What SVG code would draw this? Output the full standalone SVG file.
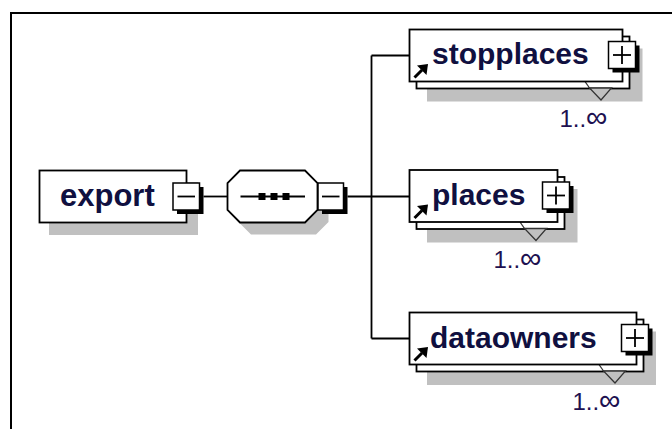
<svg xmlns="http://www.w3.org/2000/svg" width="672" height="429" viewBox="0 0 672 429">
<style>
.shadow{fill:#c0c0c0;stroke:none}
.box{fill:#fff;stroke:#000;stroke-width:1.8}
.ln{fill:none;stroke:#000;stroke-width:1.8}
.pmfill{fill:#000;stroke:none}
.pm{fill:#fff;stroke:#000;stroke-width:1.5}
.sign{stroke:#000;stroke-width:1.8;fill:none}
.name{font-family:"Liberation Sans",Arial,sans-serif;font-weight:bold;font-size:30px;fill:#101040}
.card{font-family:"Liberation Sans",Arial,sans-serif;font-size:24px;fill:#201050;text-anchor:end}
.inf{font-size:30px}
.tri{fill:#c0c0c0;stroke:#333;stroke-width:1.3}
</style>
<rect width="672" height="429" fill="#fff"/>
<path d="M11,429 V13 H672" fill="none" stroke="#000" stroke-width="2"/>

<g id="connectors">
<line class="ln" x1="203.5" y1="196.5" x2="227.5" y2="196.5"/>
<line class="ln" x1="347.5" y1="196.5" x2="409.5" y2="196.5"/>
<line class="ln" x1="371.5" y1="55.5" x2="371.5" y2="338.5"/>
<line class="ln" x1="371.5" y1="55.5" x2="409.5" y2="55.5"/>
<line class="ln" x1="371.5" y1="338.5" x2="409.5" y2="338.5"/>
</g>

<g id="export">
<rect class="shadow" x="49" y="182" width="149" height="53"/>
<rect class="box" x="39.5" y="170.5" width="147" height="52"/>
<text class="name" x="60" y="205.5" style="font-size:31px">export</text>
<rect class="pmfill" x="177" y="187" width="26.5" height="27"/>
<rect class="pm" x="173" y="183" width="26.5" height="27"/>
<line class="sign" x1="177.5" y1="196.5" x2="195" y2="196.5"/>
</g>

<g id="sequence">
<polygon class="shadow" transform="translate(11,12)" points="240,170.5 305,170.5 317.5,183 317.5,210 305,222.5 240,222.5 227.5,210 227.5,183"/>
<polygon class="box" points="240,170.5 305,170.5 317.5,183 317.5,210 305,222.5 240,222.5 227.5,210 227.5,183"/>
<line class="ln" x1="240.5" y1="196.5" x2="305" y2="196.5"/>
<rect class="pmfill" x="258.5" y="193" width="7" height="7"/>
<rect class="pmfill" x="270.5" y="193" width="7" height="7"/>
<rect class="pmfill" x="282.5" y="193" width="7" height="7"/>
<rect class="pmfill" x="322" y="187" width="25.5" height="27"/>
<rect class="pm" x="318" y="183" width="25.5" height="27"/>
<line class="sign" x1="322" y1="196.5" x2="339.5" y2="196.5"/>
</g>

<g id="stopplaces">
<rect class="shadow" x="427" y="48.5" width="215.5" height="53"/>
<rect class="box" x="416.5" y="36.5" width="213" height="52"/>
<line x1="585" y1="81.5" x2="589.5" y2="88" stroke="#333" stroke-width="1.3"/>
<polygon class="tri" points="589.5,88 611.5,88 601,100"/>
<rect class="box" x="409.5" y="29.5" width="213" height="52"/>
<text class="name" x="432" y="64">stopplaces</text>
<line x1="414.5" y1="77.5" x2="422" y2="70" stroke="#000" stroke-width="3"/>
<polygon points="428,64 417,65.5 426.5,75" fill="#000"/>
<rect class="pmfill" x="612.5" y="45.5" width="27" height="27"/>
<rect class="pm" x="608.5" y="41.5" width="27" height="27"/>
<line class="sign" x1="613" y1="55" x2="631" y2="55"/>
<line class="sign" x1="622" y1="46" x2="622" y2="64"/>
<text class="card" x="607.5" y="127">1..<tspan class="inf">∞</tspan></text>
</g>

<g id="places">
<rect class="shadow" x="427" y="189" width="150.5" height="53.5"/>
<rect class="box" x="416.5" y="177" width="148" height="52"/>
<line x1="520" y1="222" x2="524.5" y2="228.5" stroke="#333" stroke-width="1.3"/>
<polygon class="tri" points="524.5,228.5 546.5,228.5 536,240.5"/>
<rect class="box" x="409.5" y="170" width="148" height="52"/>
<text class="name" x="432" y="205">places</text>
<line x1="414.5" y1="218" x2="422" y2="210.5" stroke="#000" stroke-width="3"/>
<polygon points="428,204.5 417,206 426.5,215.5" fill="#000"/>
<rect class="pmfill" x="546.5" y="186" width="27" height="27"/>
<rect class="pm" x="542.5" y="182" width="27" height="27"/>
<line class="sign" x1="547" y1="195.5" x2="565" y2="195.5"/>
<line class="sign" x1="556" y1="186.5" x2="556" y2="204.5"/>
<text class="card" x="541.5" y="268">1..<tspan class="inf">∞</tspan></text>
</g>

<g id="dataowners">
<rect class="shadow" x="427" y="331.5" width="229" height="53.5"/>
<rect class="box" x="416.5" y="319.5" width="227" height="52"/>
<line x1="599" y1="364.5" x2="603.5" y2="371" stroke="#333" stroke-width="1.3"/>
<polygon class="tri" points="603.5,371 625.5,371 615,383"/>
<rect class="box" x="409.5" y="312.5" width="227" height="52"/>
<text class="name" x="430" y="347.5">dataowners</text>
<line x1="414.5" y1="360.5" x2="422" y2="353" stroke="#000" stroke-width="3"/>
<polygon points="428,347 417,348.5 426.5,358" fill="#000"/>
<rect class="pmfill" x="625.5" y="328.5" width="27" height="27"/>
<rect class="pm" x="621.5" y="324.5" width="27" height="27"/>
<line class="sign" x1="626" y1="338" x2="644" y2="338"/>
<line class="sign" x1="635" y1="329" x2="635" y2="347"/>
<text class="card" x="620.5" y="410">1..<tspan class="inf">∞</tspan></text>
</g>
</svg>
